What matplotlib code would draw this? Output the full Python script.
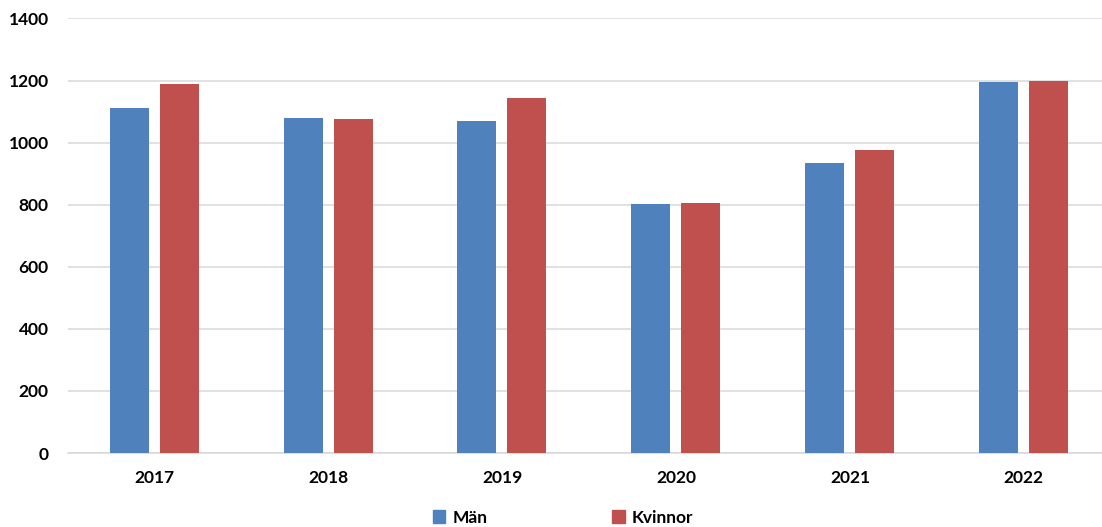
import numpy as np
import matplotlib.pyplot as plt
from matplotlib.patches import Patch

# Data
years = ['2017', '2018', '2019', '2020', '2021', '2022']
man = [1111, 1078, 1069, 801, 933, 1194]
kvinnor = [1189, 1076, 1143, 805, 976, 1199]

plt.rcParams['font.family'] = ['Lato', 'DejaVu Sans']

fig = plt.figure(figsize=(11.02, 5.27), dpi=100)
ax = fig.add_axes([0.0617, 0.1404, 0.9383, 0.8245])

x = np.arange(len(years))
w = 0.224
ax.bar(x - 0.147, man, w, color='#4F81BD', zorder=3)
ax.bar(x + 0.141, kvinnor, w, color='#C0504D', zorder=3)

# Formatting
ax.set_xlim(-0.5, 5.45)
ax.set_ylim(0, 1400)
ax.set_yticks(np.arange(0, 1401, 200))
ax.set_xticks(x)
ax.set_xticklabels(years)
ax.grid(axis='y', color='#DCDCDC', linewidth=1.2, zorder=0)
for s in ['top', 'right', 'left']:
    ax.spines[s].set_visible(False)
ax.spines['bottom'].set_color('#D9D9D9')
ax.spines['bottom'].set_linewidth(1.2)
ax.tick_params(length=0, labelsize=12.5)
ax.tick_params(axis='y', pad=14)
ax.tick_params(axis='x', pad=12)
for lab in ax.get_xticklabels() + ax.get_yticklabels():
    lab.set_fontweight('bold')

handles = [Patch(color='#4F81BD', label='Män'), Patch(color='#C0504D', label='Kvinnor')]
fig.legend(handles=handles, loc='center', bbox_to_anchor=(0.511, 0.018), ncol=2,
           frameon=False, handlelength=0.7, handleheight=0.7, handletextpad=0.4,
           columnspacing=7.2, prop={'weight': 'bold', 'size': 12.5})

fig.savefig('out.png', dpi=100)
